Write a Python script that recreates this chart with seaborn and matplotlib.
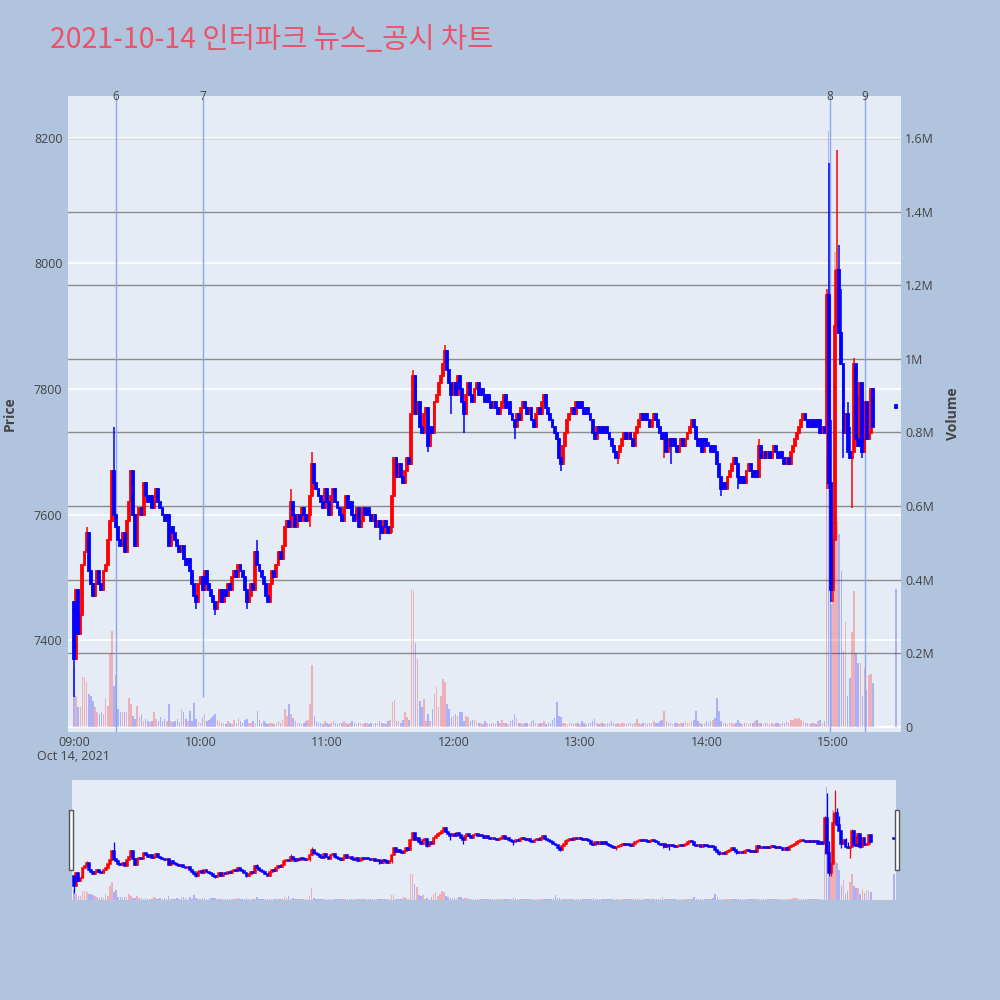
import numpy as np
import pandas as pd
import matplotlib
matplotlib.use("Agg")
import matplotlib.pyplot as plt
import matplotlib.transforms as mtransforms
from matplotlib.patches import Rectangle
import seaborn as sns

# ---------------- data ----------------
title = "2021-10-14 인터파크 뉴스_공시 차트"
date_label = "Oct 14, 2021"
x_tick_minutes = [0, 60, 120, 180, 240, 300, 360]
x_tick_labels = ["09:00", "10:00", "11:00", "12:00", "13:00", "14:00", "15:00"]
price_ticks = [7400, 7600, 7800, 8000, 8200]
volume_ticks_k = [0, 200, 400, 600, 800, 1000, 1200, 1400, 1600]
volume_tick_labels = ["0", "0.2M", "0.4M", "0.6M", "0.8M", "1M", "1.2M", "1.4M", "1.6M"]

first_open = 7460
# one close per minute from 09:00 (minute 0) to 15:19 (minute 379)
closes_0900 = [7370, 7480, 7410, 7440, 7520, 7540, 7570, 7510, 7490, 7470,
               7490, 7510, 7490, 7480, 7510, 7520, 7560, 7590, 7670, 7600,
               7580, 7560, 7550, 7570, 7540, 7590, 7620, 7670, 7600, 7550,
               7600, 7610, 7600, 7650, 7630, 7620, 7630, 7610, 7620, 7640,
               7620, 7610, 7600, 7590, 7600, 7550, 7580, 7570, 7560, 7550,
               7540, 7550, 7530, 7520, 7530, 7510, 7490, 7470, 7460, 7490,
               7500, 7480, 7510]
closes_1003 = [7490, 7480, 7470, 7460, 7450, 7460, 7480, 7460, 7480, 7470,
               7490, 7480, 7500, 7510, 7500, 7520, 7510, 7500, 7480, 7460,
               7470, 7490, 7480, 7540, 7520, 7510, 7500, 7490, 7470, 7460,
               7490, 7510, 7500, 7520, 7540, 7530, 7550, 7580, 7590, 7580,
               7620, 7600, 7580, 7600, 7590, 7610, 7600, 7590, 7600, 7630,
               7680, 7650, 7640, 7630, 7620, 7610, 7640, 7620, 7600, 7630,
               7640, 7620, 7610, 7600]
closes_1107 = [7590, 7610, 7630, 7610, 7620, 7600, 7590, 7610, 7580, 7590,
               7610, 7600, 7610, 7600, 7590, 7600, 7580, 7590, 7580, 7570,
               7590, 7580, 7570, 7580, 7630, 7690, 7660, 7680, 7660, 7650,
               7670, 7690, 7680, 7760, 7820, 7760, 7780, 7740, 7730, 7760,
               7770, 7710, 7740, 7730, 7780, 7790, 7810, 7820, 7840, 7860,
               7830, 7810, 7790, 7810, 7790, 7820, 7800, 7780, 7760, 7790,
               7810, 7790, 7780, 7800, 7810]
closes_1212 = [7790, 7800, 7790, 7780, 7790, 7780, 7770, 7780, 7770, 7760,
               7770, 7780, 7790, 7770, 7780, 7760, 7750, 7740, 7760, 7750,
               7770, 7780, 7770, 7760, 7770, 7750, 7740, 7760, 7770, 7760,
               7780, 7790, 7770, 7760, 7750, 7740, 7730, 7720, 7690, 7680,
               7710, 7730, 7750, 7760, 7770, 7760, 7780, 7770, 7780, 7770,
               7760, 7770, 7760, 7750, 7730, 7720, 7740, 7730, 7740, 7730,
               7740, 7730]
closes_1314 = [7720, 7710, 7700, 7690, 7700, 7710, 7720, 7730, 7720, 7730,
               7720, 7710, 7730, 7740, 7750, 7760, 7750, 7760, 7750, 7740,
               7750, 7760, 7750, 7740, 7730, 7720, 7730, 7700, 7720, 7710,
               7720, 7710, 7700, 7710, 7720, 7710, 7720, 7730, 7740, 7750,
               7740, 7720, 7710, 7720, 7700, 7720, 7710, 7710, 7700, 7710,
               7700, 7680, 7660, 7640, 7650, 7640, 7660, 7670, 7680, 7690,
               7680, 7660, 7650, 7660, 7650, 7670, 7680]
closes_1421 = [7670, 7660, 7670, 7660, 7710, 7690, 7700, 7690, 7700, 7690,
               7700, 7710, 7700, 7690, 7700, 7690, 7680, 7690, 7680, 7700,
               7710, 7720, 7730, 7740, 7750, 7760, 7750, 7740, 7750, 7740,
               7750, 7740, 7750, 7730, 7740, 7730, 7950, 7650, 7480, 7560,
               7900, 7990, 7890, 7840, 7730, 7760, 7700, 7690, 7700, 7840,
               7720, 7710, 7810, 7700, 7780, 7720, 7730, 7800, 7740]
closing_auction_minute = 390          # 15:30
closing_auction_price = 7770

high_marks = {0: 7460, 6: 7580, 19: 7740, 87: 7560, 103: 7640, 113: 7700,
              161: 7830, 176: 7870, 325: 7720, 357: 7960, 358: 8160, 359: 7750,
              361: 7990, 362: 8180, 363: 8030, 364: 7960, 367: 7780, 368: 7740,
              370: 7850, 371: 7800, 372: 7790}
low_marks = {0: 7310, 1: 7370, 58: 7450, 67: 7440, 82: 7450, 112: 7580,
             145: 7560, 151: 7570, 168: 7700, 179: 7760, 185: 7730, 209: 7720,
             231: 7670, 258: 7680, 280: 7690, 283: 7680, 307: 7630, 315: 7640,
             357: 7640, 358: 7640, 359: 7460, 360: 7460, 365: 7690, 369: 7610,
             374: 7690}

# volume per minute, thousands of shares
volume_0900 = [162, 85, 53, 53, 135, 135, 121, 90, 85, 71,
               53, 40, 35, 40, 35, 80, 58, 198, 261, 112,
               140, 49, 40, 40, 40, 40, 80, 62, 31, 22,
               58, 26, 35, 17, 22, 17, 13, 17, 40, 22,
               17, 26, 17, 22, 17, 62, 17, 13, 17, 22,
               13, 49, 40, 22, 17, 44, 17, 66, 22, 13,
               10, 26, 35]
volume_1003 = [15, 20, 25, 30, 35, 20, 15, 10, 12, 8,
               15, 10, 8, 20, 12, 25, 15, 10, 18, 22,
               10, 12, 15, 10, 44, 20, 12, 15, 10, 8,
               12, 10, 8, 10, 15, 10, 20, 49, 30, 62,
               35, 25, 15, 10, 12, 8, 10, 15, 20, 62,
               169, 31, 15, 12, 10, 8, 15, 10, 8, 12,
               15, 10, 8, 10]
volume_1107 = [10, 17, 12, 8, 10, 17, 10, 8, 12, 10,
               8, 10, 12, 8, 10, 8, 12, 10, 17, 12,
               10, 8, 15, 20, 67, 74, 17, 15, 12, 20,
               40, 26, 20, 374, 369, 229, 184, 71, 53, 76,
               17, 35, 15, 49, 90, 108, 53, 85, 130, 121,
               62, 49, 26, 30, 35, 30, 42, 40, 17, 30,
               26, 15, 20, 18, 15]
volume_1212 = [10, 12, 8, 15, 10, 8, 12, 10, 8, 15,
               10, 20, 12, 10, 8, 15, 20, 35, 25, 12,
               10, 8, 10, 12, 8, 15, 20, 10, 8, 10,
               12, 15, 8, 10, 12, 18, 25, 67, 30, 26,
               12, 10, 8, 10, 12, 8, 10, 12, 8, 15,
               10, 8, 12, 10, 15, 22, 10, 8, 10, 12,
               8, 10]
volume_1314 = [12, 15, 10, 8, 10, 8, 12, 10, 8, 10,
               12, 8, 10, 22, 12, 8, 10, 12, 8, 10,
               12, 15, 10, 12, 15, 20, 43, 15, 10, 12,
               8, 10, 12, 8, 10, 12, 15, 10, 12, 15,
               20, 43, 15, 10, 8, 12, 15, 10, 17, 20,
               25, 79, 44, 15, 10, 12, 8, 10, 12, 8,
               10, 20, 12, 8, 10, 12, 8]
volume_1421 = [10, 12, 15, 18, 12, 10, 8, 10, 12, 8,
               10, 8, 12, 10, 8, 12, 10, 15, 12, 18,
               20, 25, 22, 25, 20, 15, 12, 10, 8, 10,
               12, 8, 15, 20, 12, 15, 730, 1620, 330, 520,
               1290, 560, 525, 425, 206, 285, 84, 133, 257, 369,
               200, 173, 173, 84, 160, 100, 140, 145, 120]
closing_auction_volume = 374

# numbered markers on the time axis (minute after 09:00)
marker_ids = ["6", "7", "8", "9"]
marker_minutes = [19.9, 61.2, 358.6, 375.2]
marker_reach_bottom = [True, False, True, True]
marker_low_price = 7310

# ---------------- table ----------------
closes = (closes_0900 + closes_1003 + closes_1107 + closes_1212
          + closes_1314 + closes_1421)
volumes = (volume_0900 + volume_1003 + volume_1107 + volume_1212
           + volume_1314 + volume_1421)
assert len(closes) == 380 and len(volumes) == 380, (len(closes), len(volumes))

minutes = list(range(len(closes))) + [closing_auction_minute]
opens = [first_open] + closes[:-1] + [closing_auction_price]
cl = closes + [closing_auction_price]
vol = volumes + [closing_auction_volume]
df = pd.DataFrame({"minute": minutes, "open": opens, "close": cl, "vol": vol})
df["high"] = [max(o, c, high_marks.get(m, 0)) for m, o, c in zip(df.minute, df.open, df.close)]
df["low"] = [min(o, c, low_marks.get(m, 99999)) for m, o, c in zip(df.minute, df.open, df.close)]
df["dir"] = np.where(df.close > df.open, "up", "down")

INC, DEC = "#FF0000", "#0000FF"
BG, PLOT_BG = "#B0C4DE", "#E5ECF6"
TXT = "#444444"

sns.set_theme(style="white")
plt.rcParams["font.family"] = ["Open Sans", "Noto Sans CJK KR", "DejaVu Sans"]

fig = plt.figure(figsize=(10, 10), dpi=100, facecolor=BG)

L, R, T, B = 68, 901, 96, 732
ax_v = fig.add_axes([L / 1000, 1 - B / 1000, (R - L) / 1000, (B - T) / 1000])
ax_v.set_facecolor(PLOT_BG)
ax_p = ax_v.twinx()

P_LIM = (7253.7, 8266.8)
V_LIM = (-13.6, 1713.9)
X_LIM = (-2.85, 392.3)


def draw_volume(ax):
    sns.barplot(data=df, x="minute", y="vol", hue="dir",
                palette={"up": INC, "down": DEC}, native_scale=True,
                dodge=False, errorbar=None, alpha=0.25, saturation=1,
                width=0.75, legend=False, ax=ax, linewidth=0, zorder=2)


def draw_candles(ax, body_w, wick_lw, edge_lw, min_h):
    for d, col in (("up", INC), ("down", DEC)):
        s = df[df.dir == d]
        ax.vlines(s.minute, s.low, s.high, color=col, lw=wick_lw, zorder=3)
        bottom = np.minimum(s.open, s.close)
        h = np.maximum((s.close - s.open).abs(), min_h)
        ax.bar(s.minute, h, bottom=bottom, width=body_w, color=col,
               edgecolor=col, linewidth=edge_lw, zorder=4)


# ---- main panel ----
draw_volume(ax_v)
draw_candles(ax_p, 0.9, 1.1, 1.3, 4)

for ax in (ax_v, ax_p):
    ax.set_xlim(*X_LIM)
    for sp in ax.spines.values():
        sp.set_visible(False)
    ax.set_xlabel("")
    ax.set_ylabel("")

ax_p.set_ylim(*P_LIM)
ax_v.set_ylim(*V_LIM)

# volume grid (grey) and price grid (white), both beneath the marks
for v in volume_ticks_k[1:]:
    ax_v.axhline(v, color="#8c8c8c", lw=1.0, zorder=0.5)
ax_v.axhline(0, color="white", lw=1.6, zorder=0.6)
blend = mtransforms.blended_transform_factory(ax_v.transAxes, ax_p.transData)
for p in price_ticks:
    ax_v.plot([0, 1], [p, p], transform=blend, color="white", lw=1.2, zorder=0.55)

# numbered marker lines
mark_blend = mtransforms.blended_transform_factory(ax_v.transData, ax_v.transAxes)
for lab, m, full in zip(marker_ids, marker_minutes, marker_reach_bottom):
    if full:
        ax_v.axvline(m, color="#8EA6E6", lw=1.0, zorder=2.5)
    else:
        ax_p.vlines(m, marker_low_price, P_LIM[1], color="#8EA6E6", lw=1.0, zorder=1)
    ax_v.text(m, 1.0, lab, transform=mark_blend, ha="center", va="center",
              fontsize=8.5, color=TXT)

ax_v.set_xticks(x_tick_minutes)
ax_v.set_xticklabels(x_tick_labels)
ax_v.yaxis.tick_right()
ax_v.set_yticks(volume_ticks_k)
ax_v.set_yticklabels(volume_tick_labels)
ax_p.yaxis.tick_left()
ax_p.set_yticks(price_ticks)
ax_p.set_yticklabels([str(p) for p in price_ticks])
ax_v.tick_params(axis="x", length=0, pad=3, labelsize=9, labelcolor=TXT)
ax_v.tick_params(axis="y", length=0, pad=3, labelsize=9, labelcolor=TXT,
                 left=False, labelleft=False, right=False, labelright=True)
ax_p.tick_params(axis="y", length=0, pad=4, labelsize=9, labelcolor=TXT,
                 right=False, labelright=False, left=False, labelleft=True)
ax_p.tick_params(axis="x", bottom=False, labelbottom=False)

fig.text(73 / 1000, 1 - 757 / 1000, date_label, ha="center", va="center",
         fontsize=9, color=TXT)
fig.text(10 / 1000, 1 - 414 / 1000, "Price", rotation=90, ha="center",
         va="center", fontsize=10, fontweight="bold", color=TXT)
fig.text(953 / 1000, 1 - 414 / 1000, "Volume", rotation=90, ha="center",
         va="center", fontsize=10, fontweight="bold", color=TXT)
fig.text(50 / 1000, 1 - 40 / 1000, title, ha="left", va="center",
         fontsize=20.5, color="#E9546B",
         family=["Noto Sans CJK KR", "DejaVu Sans"])

# ---- range slider ----
SL, SR, ST, SB = 72, 896, 780, 900
ax_s = fig.add_axes([SL / 1000, 1 - SB / 1000, (SR - SL) / 1000, (SB - ST) / 1000])
ax_s.set_facecolor(PLOT_BG)
ax_s2 = ax_s.twinx()
draw_volume(ax_s)
draw_candles(ax_s2, 0.9, 0.9, 1.1, 4)
for ax in (ax_s, ax_s2):
    ax.set_xlim(-1, 391)
    for sp in ax.spines.values():
        sp.set_visible(False)
    ax.set_xticks([])
    ax.set_yticks([])
    ax.set_xlabel("")
    ax.set_ylabel("")
ax_s.set_ylim(0, V_LIM[1])
ax_s2.set_ylim(*P_LIM)

for hx in (69, 895):
    fig.patches.append(Rectangle((hx / 1000, 1 - 870 / 1000), 4 / 1000, 60 / 1000,
                                 transform=fig.transFigure, facecolor="white",
                                 edgecolor="#555555", lw=1.0, zorder=10))

fig.savefig("out.png", dpi=100, facecolor=BG)
